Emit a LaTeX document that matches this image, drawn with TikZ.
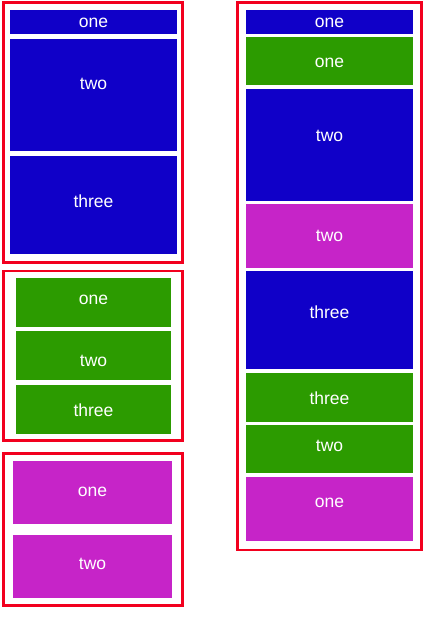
\documentclass[tikz,border=0pt]{standalone}
\usepackage{fontspec}
\setmainfont{Liberation Sans}
\usepackage{tikz}
\usetikzlibrary{fit, positioning}
\definecolor{myred}{HTML}{F2001E}
\definecolor{myblue}{HTML}{1000C8}
\definecolor{mygreen}{HTML}{2C9B00}
\definecolor{mymagenta}{HTML}{C624C8}
\tikzset{
	framebox/.style={
			draw=myred,
			line width=1.3pt,
			fill=none,
			inner sep=0pt
		},
	cellbox/.style={
			draw=none,
			inner sep=0pt
		},
	bluecell/.style={
			cellbox,
			fill=myblue
		},
	greencell/.style={
			cellbox,
			fill=mygreen
		},
	magentacell/.style={
			cellbox,
			fill=mymagenta
		},
	celltext/.style={
			text=white,
			font=\fontsize{8.75pt}{10pt}\selectfont,
			inner sep=0pt,
			yshift=-0.6pt
		}
}

\begin{document}
\begin{tikzpicture}[x=0.5pt, y=-0.5pt]
\useasboundingbox (0,0) rectangle (424,619);

% left column, blue stack
\node[framebox, fit={(3.3,2.7) (182.7,262.3)}] (fblue) {};
\node[bluecell, fit={(10,10) (177,34)}] (bone) {};
\node[bluecell, fit={(10,39) (177,151)}] (btwo) {};
\node[bluecell, fit={(10,156) (177,254)}] (bthree) {};
\node[celltext] at (93.5,22) {one};
\node[celltext] at (93.5,83) {two};
\node[celltext] at (93.5,200) {three};

% left column, green stack
\node[framebox, fit={(3.3,271) (182.7,440.3)}] (fgreen) {};
\node[greencell, fit={(16,278) (171,327)}] (gone) {};
\node[greencell, fit={(16,331) (171,380)}] (gtwo) {};
\node[greencell, fit={(16,385) (171,434)}] (gthree) {};
\node[celltext] at (93.5,299) {one};
\node[celltext] at (93.5,360) {two};
\node[celltext] at (93.5,409) {three};

% left column, magenta stack
\node[framebox, fit={(3.3,453.7) (182.7,605.7)}] (fmagenta) {};
\node[magentacell, fit={(13,461) (172,524)}] (mone) {};
\node[magentacell, fit={(13,535) (172,598)}] (mtwo) {};
\node[celltext] at (92.5,491) {one};
\node[celltext] at (92.5,563) {two};

% right column, merged stack
\node[framebox, fit={(237.3,2.7) (421.3,550)}] (fmerged) {};
\node[bluecell, fit={(246,10) (413,34)}] (rone) {};
\node[greencell, fit={(246,37) (413,85)}] (rtwo) {};
\node[bluecell, fit={(246,89) (413,201)}] (rthree) {};
\node[magentacell, fit={(246,204) (413,268)}] (rfour) {};
\node[bluecell, fit={(246,271) (413,369)}] (rfive) {};
\node[greencell, fit={(246,373) (413,422)}] (rsix) {};
\node[greencell, fit={(246,425) (413,473)}] (rseven) {};
\node[magentacell, fit={(246,477) (413,541)}] (reight) {};
\node[celltext] at (329.5,22) {one};
\node[celltext] at (329.5,62) {one};
\node[celltext] at (329.5,135) {two};
\node[celltext] at (329.5,235) {two};
\node[celltext] at (329.5,311) {three};
\node[celltext] at (329.5,397) {three};
\node[celltext] at (329.5,445) {two};
\node[celltext] at (329.5,502) {one};
\end{tikzpicture}
\end{document}
